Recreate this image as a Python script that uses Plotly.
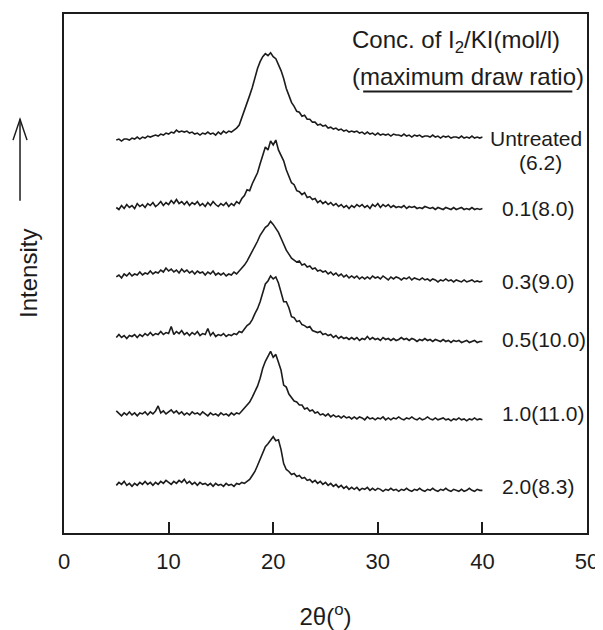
import plotly.graph_objects as go

two_theta = [5.0, 5.25, 5.5, 5.75, 6.0, 6.25, 6.5, 6.75, 7.0, 7.25, 7.5, 7.75, 8.0, 8.25, 8.5, 8.75,
             9.0, 9.25, 9.5, 9.75, 10.0, 10.25, 10.5, 10.75, 11.0, 11.25, 11.5, 11.75, 12.0, 12.25, 12.5, 12.75,
             13.0, 13.25, 13.5, 13.75, 14.0, 14.25, 14.5, 14.75, 15.0, 15.25, 15.5, 15.75, 16.0, 16.25, 16.5, 16.75,
             17.0, 17.25, 17.5, 17.75, 18.0, 18.25, 18.5, 18.75, 19.0, 19.25, 19.5, 19.75, 20.0, 20.25, 20.5, 20.75,
             21.0, 21.25, 21.5, 21.75, 22.0, 22.25, 22.5, 22.75, 23.0, 23.25, 23.5, 23.75, 24.0, 24.25, 24.5, 24.75,
             25.0, 25.25, 25.5, 25.75, 26.0, 26.25, 26.5, 26.75, 27.0, 27.25, 27.5, 27.75, 28.0, 28.25, 28.5, 28.75,
             29.0, 29.25, 29.5, 29.75, 30.0, 30.25, 30.5, 30.75, 31.0, 31.25, 31.5, 31.75, 32.0, 32.25, 32.5, 32.75,
             33.0, 33.25, 33.5, 33.75, 34.0, 34.25, 34.5, 34.75, 35.0, 35.25, 35.5, 35.75, 36.0, 36.25, 36.5, 36.75,
             37.0, 37.25, 37.5, 37.75, 38.0, 38.25, 38.5, 38.75, 39.0, 39.25, 39.5, 39.75, 40.0]

intensity_untreated = [0, 1, -1, 1, 1, 0, 2, 1, 3, 1, 3, 2, 4, 3, 4, 5, 4, 6, 5, 7,
                       6, 8, 7, 10, 8, 9, 8, 9, 7, 8, 6, 7, 5, 7, 6, 8, 6, 7, 5, 8,
                       6, 9, 7, 9, 8, 10, 12, 15, 22, 29, 38, 45, 53, 63, 72, 79, 84, 87, 85, 88,
                       84, 82, 76, 70, 62, 52, 45, 38, 34, 29, 28, 24, 25, 21, 21, 18, 18, 15, 16, 14,
                       15, 12, 13, 11, 12, 10, 11, 9, 10, 8, 9, 8, 9, 7, 8, 6, 8, 6, 7, 5,
                       7, 5, 6, 5, 6, 4, 6, 5, 5, 4, 6, 4, 5, 3, 5, 4, 5, 3, 4, 4,
                       3, 5, 3, 4, 2, 4, 3, 4, 2, 3, 3, 2, 4, 2, 3, 2, 4, 2, 3, 2, 3]

intensity_01 = [0, -2, 2, -1, 3, 0, 2, -1, 4, 1, 3, 0, 4, 2, 5, 1, 3, 6, 2, 5,
                3, 7, 4, 8, 4, 6, 3, 6, 2, 5, 3, 6, 2, 4, 1, 5, 2, 6, 3, 1,
                4, 2, 5, 1, 4, 2, 6, 4, 9, 12, 18, 17, 24, 29, 35, 44, 52, 61, 58, 67,
                63, 68, 58, 53, 47, 38, 31, 25, 23, 17, 16, 13, 15, 10, 11, 8, 9, 5, 7, 4,
                6, 3, 5, 2, 4, 1, 3, 0, 2, -1, 2, 0, 3, 1, 3, 0, 2, -1, 3, 1,
                4, 0, 3, 1, 3, 0, 2, 0, 1, 0, 2, -1, 1, 0, 1, -1, 0, -1, 1, 0,
                -1, 0, -2, 0, -1, -2, 0, -1, -2, 0, -2, -1, 0, -2, -1, -2, 0, -2, -1, -2, -1]

intensity_03 = [0, 2, -1, 3, 1, 4, 1, 3, 2, 5, 2, 4, 3, 6, 3, 5, 4, 7, 5, 9,
                6, 8, 5, 7, 4, 8, 5, 7, 4, 6, 3, 6, 4, 5, 2, 5, 3, 6, 2, 4,
                2, 4, 1, 3, 2, 5, 3, 6, 8, 12, 16, 21, 25, 31, 36, 42, 46, 50, 52, 56,
                53, 49, 45, 39, 33, 27, 23, 19, 17, 15, 16, 12, 13, 10, 11, 8, 9, 6, 7, 5,
                6, 3, 5, 2, 4, 1, 3, 0, 2, -1, 1, -1, 1, -2, 0, -2, 0, -2, 1, -1,
                0, -2, 1, -1, -3, 0, -2, 0, -1, -3, -1, -2, 0, -3, -1, -2, -3, -1, -3, -2,
                -4, -2, -3, -5, -3, -4, -2, -4, -3, -5, -3, -4, -5, -3, -5, -4, -3, -5, -4, -5, -4]

intensity_05 = [0, 3, 0, 2, -1, 2, 1, 3, 0, 3, 1, 4, 2, 5, 2, 4, 3, 6, 3, 5,
                4, 11, 3, 6, 4, 7, 3, 5, 2, 5, 3, 6, 2, 4, 3, 9, 2, 5, 1, 3,
                2, 4, 1, 3, 2, 4, 3, 6, 5, 9, 12, 14, 18, 24, 29, 36, 45, 54, 57, 62,
                59, 61, 55, 44, 36, 36, 30, 21, 20, 16, 17, 13, 12, 10, 11, 7, 6, 5, 6, 3,
                4, 2, 3, 0, 2, -1, 1, -1, 0, -2, 0, -2, 0, -3, -1, -2, 1, -2, 0, -2,
                -1, -3, 0, -2, -1, -3, -1, -3, -2, 0, -2, -1, -3, -1, -2, -4, -2, -3, -1, -3,
                -2, -4, -2, -3, -4, -2, -4, -3, -5, -3, -4, -3, -5, -4, -3, -5, -4, -3, -5, -4, -4]

intensity_10 = [3, 0, -2, 1, -1, 2, -1, 1, -2, 1, 0, 2, -1, 2, 0, 3, 8, 1, 3, 0,
                2, 4, 1, 3, 0, 2, -1, 1, -1, 2, 0, 1, -1, 2, 0, -2, 1, -1, 0, -2,
                1, -1, 0, -2, 1, -1, 1, 0, 3, 6, 9, 12, 17, 22, 28, 36, 46, 53, 58, 63,
                57, 60, 52, 44, 29, 27, 20, 17, 13, 12, 9, 9, 5, 6, 3, 4, 1, 2, -1, 0,
                -2, 0, -3, -1, -3, -2, -4, -2, -4, -3, -5, -3, -5, -3, -4, -6, -3, -5, -4, -6,
                -4, -5, -3, -6, -4, -6, -4, -5, -3, -5, -6, -4, -5, -3, -5, -6, -4, -6, -5, -3,
                -5, -6, -4, -6, -5, -4, -6, -5, -7, -5, -6, -4, -6, -5, -7, -5, -6, -4, -6, -5, -6]

intensity_20 = [0, 3, 1, 4, 0, 2, -1, 2, 0, 3, 1, 4, 1, 3, 0, 3, 1, 4, 2, 5,
                3, 1, 4, 2, 5, 3, 6, 2, 4, 1, 3, 0, 3, 1, 2, 0, 2, -1, 2, 0,
                1, -1, 2, 0, 1, -1, 2, 1, 3, 2, 4, 6, 10, 14, 20, 27, 33, 39, 42, 46,
                49, 45, 46, 36, 22, 16, 14, 11, 12, 9, 10, 7, 8, 5, 6, 3, 5, 2, 4, 1,
                3, 0, 2, -1, 1, -2, 0, -3, -1, -4, -2, -4, -2, -5, -3, -4, -2, -5, -3, -5,
                -3, -4, -6, -4, -5, -3, -5, -4, -6, -4, -5, -3, -5, -6, -4, -5, -3, -5, -6, -4,
                -5, -3, -5, -6, -4, -5, -3, -5, -6, -4, -5, -6, -4, -6, -5, -3, -5, -6, -4, -5, -5]

series = [intensity_untreated, intensity_01, intensity_03, intensity_05, intensity_10, intensity_20]
offsets = [396, 328, 258, 197, 120, 48]
labels = ["0.1(8.0)", "0.3(9.0)", "0.5(10.0)", "1.0(11.0)", "2.0(8.3)"]
label_y = [327, 253, 195, 120, 47]

ink = "#1c1c1c"
font_family = "Liberation Sans, Arial, sans-serif"

fig = go.Figure()
for vals, off in zip(series, offsets):
    fig.add_trace(go.Scatter(x=two_theta, y=[v + off for v in vals], mode="lines",
                             line=dict(color=ink, width=1.6), showlegend=False, hoverinfo="skip"))

ann = []
ann.append(dict(x=40.5, y=398, xref="x", yref="y", text="Untreated", showarrow=False,
                xanchor="left", yanchor="middle", font=dict(size=21, color=ink, family=font_family)))
ann.append(dict(x=43.3, y=373, xref="x", yref="y", text="(6.2)", showarrow=False,
                xanchor="left", yanchor="middle", font=dict(size=21, color=ink, family=font_family)))
for t, yy in zip(labels, label_y):
    ann.append(dict(x=41.7, y=yy, xref="x", yref="y", text=t, showarrow=False,
                    xanchor="left", yanchor="middle", font=dict(size=21, color=ink, family=font_family)))
ann.append(dict(x=27.3, y=495, xref="x", yref="y", text="Conc. of I<sub>2</sub>/KI(mol/l)", showarrow=False,
                xanchor="left", yanchor="middle", font=dict(size=24, color=ink, family=font_family)))
ann.append(dict(x=27.3, y=460, xref="x", yref="y", text="(maximum draw ratio)", showarrow=False,
                xanchor="left", yanchor="middle", font=dict(size=24, color=ink, family=font_family)))
ann.append(dict(x=-0.068, y=0.50, xref="paper", yref="paper", text="Intensity", showarrow=False,
                textangle=-90, xanchor="center", yanchor="middle",
                font=dict(size=24, color=ink, family=font_family)))

shapes = [
    dict(type="line", xref="x", yref="y", x0=28.6, x1=48.6, y0=445, y1=445,
         line=dict(color=ink, width=2)),
    dict(type="line", xref="paper", yref="paper", x0=-0.0841, x1=-0.0841, y0=0.640, y1=0.797,
         line=dict(color=ink, width=1.5)),
    dict(type="path", xref="paper", yref="paper",
         path="M -0.0975 0.757 L -0.0841 0.797 L -0.0707 0.757",
         line=dict(color=ink, width=1.5)),
]

# page body has an 8px default margin, so the figure is drawn 8px smaller and shifted
fig.update_layout(
    width=595, height=622,
    margin=dict(l=56, r=16, t=4, b=95),
    plot_bgcolor="white", paper_bgcolor="white",
    font=dict(family=font_family, color=ink),
    annotations=ann, shapes=shapes,
    xaxis=dict(range=[0, 50], tickvals=[0, 10, 20, 30, 40, 50], ticktext=["0", "10", "20", "30", "40", "50"],
               ticks="inside", ticklen=11, tickwidth=2, tickcolor=ink,
               showline=True, linewidth=2, linecolor=ink, mirror=True,
               showgrid=False, zeroline=False,
               tickfont=dict(size=22, color=ink, family=font_family),
               ticklabelstandoff=8,
               title=dict(text="2θ(<sup>o</sup>)", font=dict(size=24, color=ink, family=font_family), standoff=35)),
    yaxis=dict(range=[0, 523], showticklabels=False, ticks="",
               showline=True, linewidth=2, linecolor=ink, mirror=True,
               showgrid=False, zeroline=False),
)

fig.write_html("out.html")
